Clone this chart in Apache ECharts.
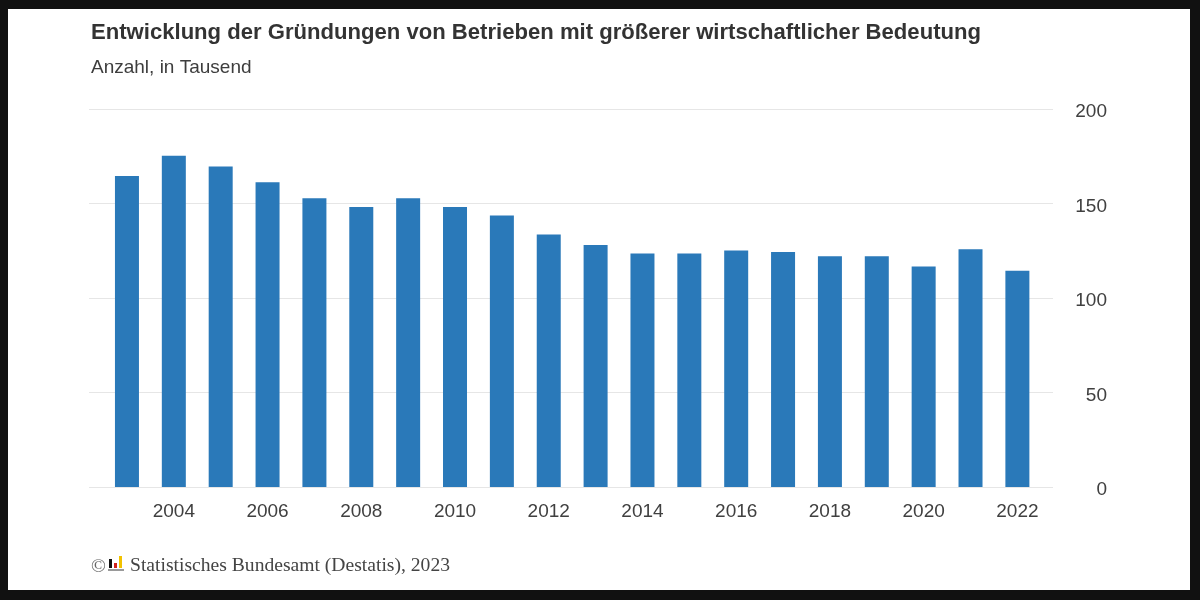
<!DOCTYPE html>
<html>
<head>
<meta charset="utf-8">
<script src="https://cdn.jsdelivr.net/npm/echarts@6/dist/echarts.min.js"></script>
<style>
  html, body { margin: 0; padding: 0; background: #fff; }
  #chart { width: 1200px; height: 600px; }
  #frame { position: absolute; left: 0; top: 0; width: 1200px; height: 600px; box-sizing: border-box;
           border-style: solid; border-color: #111; border-width: 9px 10px 10px 8px; pointer-events: none; }
</style>
</head>
<body>
<div id="chart"></div>
<div id="frame"></div>
<script>
const years = [2003, 2004, 2005, 2006, 2007, 2008, 2009, 2010, 2011, 2012, 2013, 2014, 2015, 2016, 2017, 2018, 2019, 2020, 2021, 2022];
const values = [164.5, 175.2, 169.6, 161.3, 152.8, 148.1, 152.8, 148.1, 143.6, 133.6, 128.1, 123.5, 123.5, 125.1, 124.4, 122.1, 122.1, 116.7, 125.8, 114.4];
const xTickLabels = [2004, 2006, 2008, 2010, 2012, 2014, 2016, 2018, 2020, 2022];
const yTicks = { min: 0, max: 200, interval: 50 };
const titleText = 'Entwicklung der Gründungen von Betrieben mit größerer wirtschaftlicher Bedeutung';
const subtitleText = 'Anzahl, in Tausend';
const sourceText = 'Statistisches Bundesamt (Destatis), 2023';

const chart = echarts.init(document.getElementById('chart'), null, { renderer: 'canvas' });
const option = {
  backgroundColor: '#ffffff',
  animation: false,
  title: {
    text: titleText,
    subtext: subtitleText,
    left: 91,
    top: 22,
    padding: 0,
    itemGap: 14,
    textStyle: { fontFamily: 'Liberation Sans, Arial, sans-serif', fontSize: 22.1, fontWeight: 'bold', color: '#333333' },
    subtextStyle: { fontFamily: 'Liberation Sans, Arial, sans-serif', fontSize: 19, color: '#3d3d3d' }
  },
  grid: { left: 89, right: 147, top: 109, bottom: 113, containLabel: false },
  xAxis: {
    type: 'value',
    min: 2002.19,
    max: 2022.76,
    axisLine: { show: false },
    axisTick: { show: false },
    splitLine: { show: false },
    axisLabel: {
      customValues: xTickLabels,
      formatter: v => String(v),
      margin: 15,
      fontFamily: 'Liberation Sans, Arial, sans-serif',
      fontSize: 19,
      color: '#404040',
      showMinLabel: true,
      showMaxLabel: true
    }
  },
  yAxis: {
    type: 'value',
    position: 'right',
    min: yTicks.min,
    max: yTicks.max,
    interval: yTicks.interval,
    axisLine: { show: false },
    axisTick: { show: false },
    splitLine: { show: true, lineStyle: { color: '#e6e6e6', width: 1 } },
    axisLabel: {
      align: 'right',
      margin: 54,
      formatter: '{v|{value}}',
      rich: {
        v: {
          padding: [6, 0, 0, 0],
          fontFamily: 'Liberation Sans, Arial, sans-serif',
          fontSize: 19,
          color: '#404040'
        }
      },
      fontFamily: 'Liberation Sans, Arial, sans-serif',
      fontSize: 19,
      color: '#404040'
    }
  },
  series: [{
    type: 'bar',
    data: years.map((y, i) => [y, values[i]]),
    barWidth: 24,
    itemStyle: { color: '#2a79b9' }
  }],
  graphic: [
    { type: 'text', left: 91, top: 557, style: { text: '©', fontFamily: 'Liberation Serif, Times New Roman, serif', fontSize: 19.6, fill: '#666666' } },
    { type: 'rect', shape: { x: 109, y: 559, width: 3, height: 9 }, style: { fill: '#111111' } },
    { type: 'rect', shape: { x: 114, y: 563, width: 3, height: 5 }, style: { fill: '#d0201c' } },
    { type: 'rect', shape: { x: 119, y: 556, width: 3, height: 12 }, style: { fill: '#f2c200' } },
    { type: 'rect', shape: { x: 108, y: 569, width: 16, height: 2 }, style: { fill: '#9a9a9a' } },
    { type: 'text', left: 130, top: 556, style: { text: sourceText, fontFamily: 'Liberation Serif, Times New Roman, serif', fontSize: 19.6, fill: '#444444' } }
  ]
};
chart.setOption(option);
</script>
</body>
</html>
